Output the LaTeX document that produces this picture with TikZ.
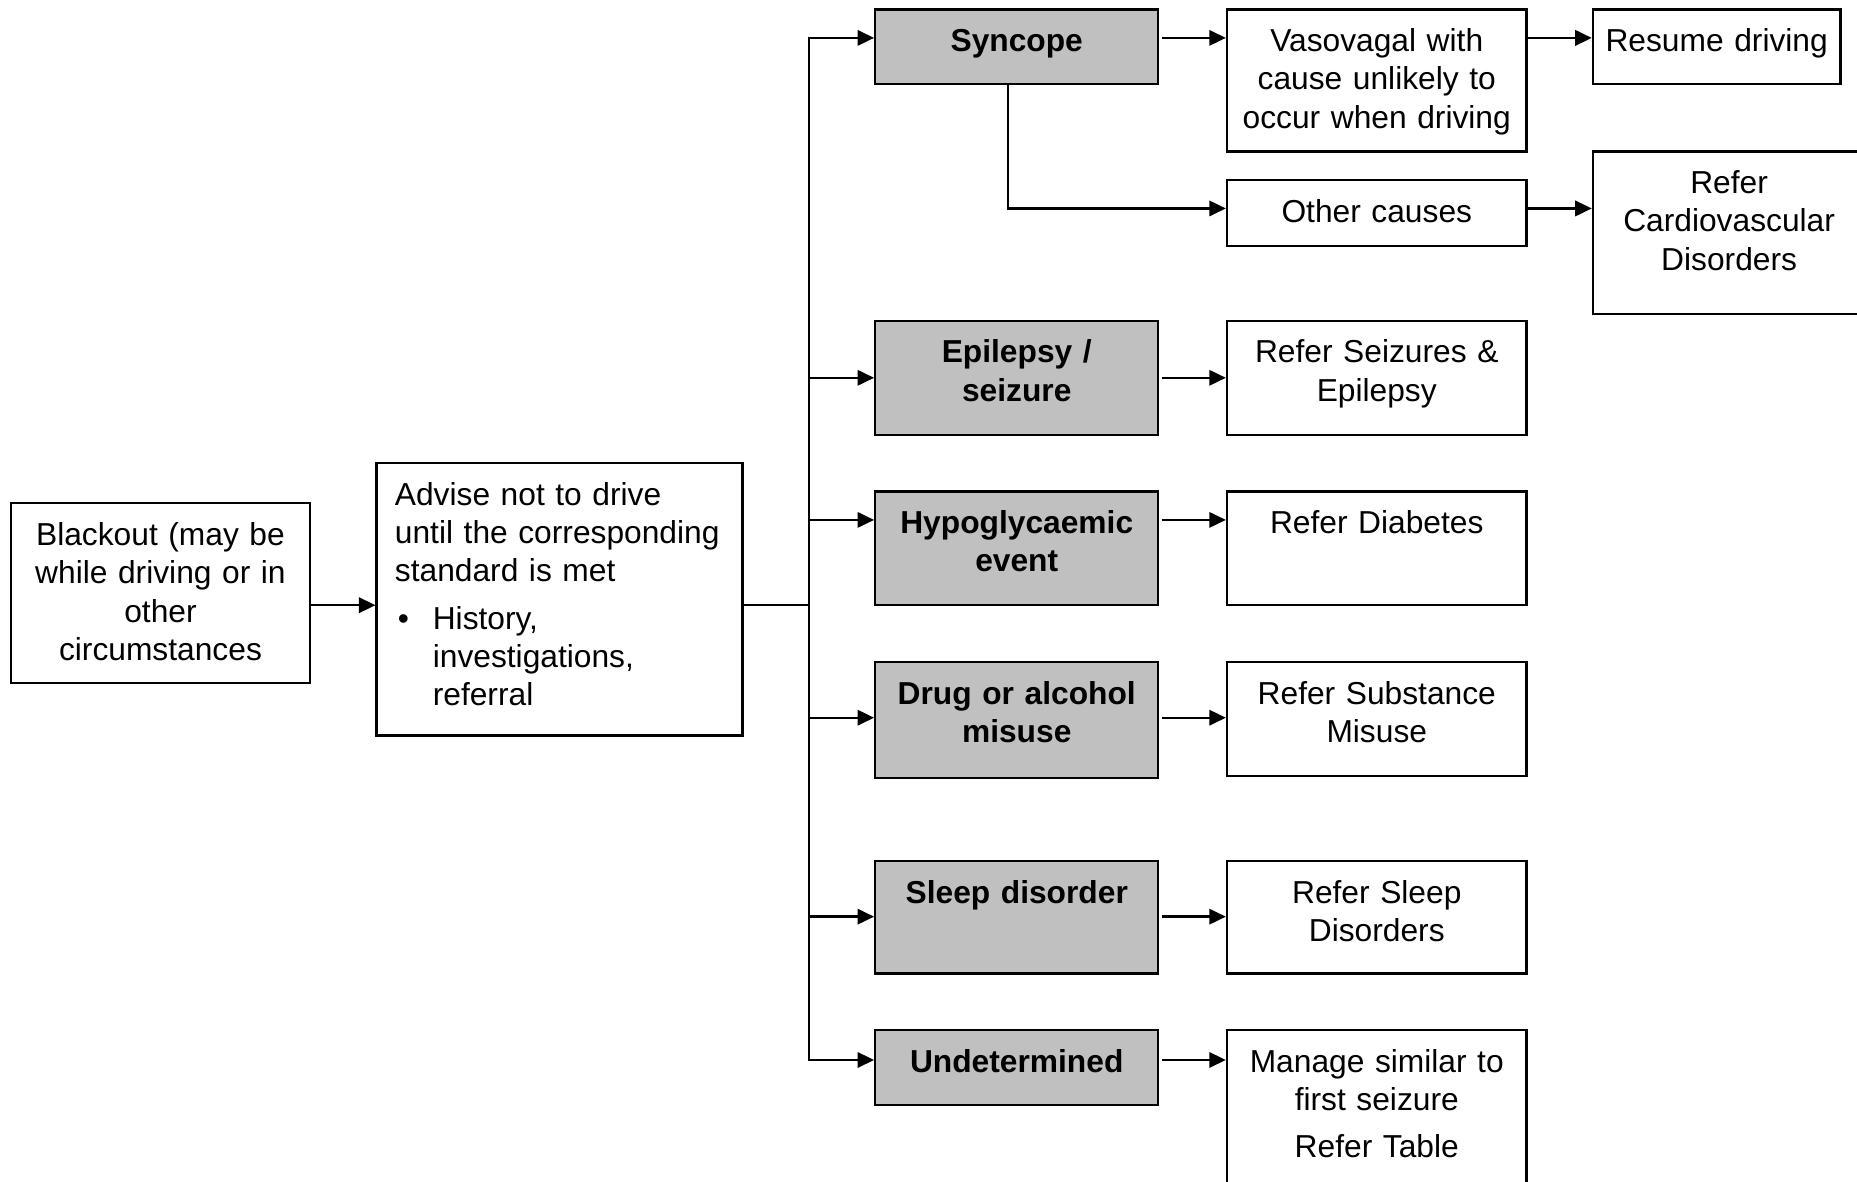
\documentclass[tikz,border=0pt]{standalone}
\usepackage{fontspec}
\setmainfont{Liberation Sans}
\usetikzlibrary{arrows.meta,fit}
\definecolor{boxgray}{RGB}{192,192,192}
\newcommand\mkbox[6]{%
  \path (#2,#3) coordinate (#1nw) (#4,#5) coordinate (#1se);
  \node[#6,fit=(#1nw)(#1se)] (#1) {};}
\begin{document}
\begin{tikzpicture}[x=0.5pt,y=-0.5pt,
  frame/.style={draw=black,line width=0.95pt,inner sep=0pt},
  wbox/.style={frame,fill=white},
  gbox/.style={frame,fill=boxgray},
  txt/.style={anchor=base,align=center,inner sep=0pt,text width=130pt,
    font=\fontsize{13.4pt}{16.2pt}\selectfont},
  btxt/.style={txt,font=\fontsize{13.4pt}{16.2pt}\selectfont\bfseries},
  conn/.style={line width=1pt},
  arr/.style={conn,-{Triangle[length=7pt,width=6.5pt]}},
  arrtwo/.style={conn,{Triangle[length=7pt,width=6.5pt]}-{Triangle[length=7pt,width=6.5pt]}}]
\useasboundingbox (0,0) rectangle (1568,998);

% boxes
\mkbox{blk}{9}{425}{262}{577}{wbox}
\mkbox{adv}{318}{391}{627}{621}{wbox}
\mkbox{syn}{739}{8}{978}{71}{gbox}
\mkbox{epi}{739}{271}{978}{367}{gbox}
\mkbox{hyp}{739}{415}{978}{511}{gbox}
\mkbox{drg}{739}{559}{978}{657}{gbox}
\mkbox{slp}{739}{727}{978}{822}{gbox}
\mkbox{und}{739}{870}{978}{933}{gbox}
\mkbox{vas}{1036}{8}{1289}{128}{wbox}
\mkbox{oth}{1036}{152}{1289}{208}{wbox}
\mkbox{rse}{1036}{271}{1289}{367}{wbox}
\mkbox{rdi}{1036}{415}{1289}{511}{wbox}
\mkbox{rsu}{1036}{559}{1289}{655}{wbox}
\mkbox{rsl}{1036}{727}{1289}{822}{wbox}
\mkbox{man}{1036}{870}{1289}{1012}{wbox}
\mkbox{res}{1345}{8}{1554}{71}{wbox}
\mkbox{car}{1345}{128}{1575}{265}{wbox}

% texts
\node[txt] (tblk) at ([yshift=-18.2pt]blk.north) {Blackout (may be\\while driving or in\\other\\circumstances};
\node[anchor=base west,align=left,inner sep=0pt,text width=150pt,
  font=\fontsize{13.4pt}{16.2pt}\selectfont] (tadv) at ([xshift=8pt,yshift=-18.2pt]adv.north west)
  {Advise not to drive\\until the corresponding\\standard is met\\[3.75pt]%
   \makebox[16pt][l]{\hspace{1.2pt}\textbullet}History,\\\hspace*{16pt}investigations,\\\hspace*{16pt}referral};
\node[btxt] (tsyn) at ([yshift=-18.2pt]syn.north) {Syncope};
\node[btxt] (tepi) at ([yshift=-18.2pt]epi.north) {Epilepsy /\\seizure};
\node[btxt] (thyp) at ([yshift=-18.2pt]hyp.north) {Hypoglycaemic\\event};
\node[btxt] (tdrg) at ([yshift=-18.2pt]drg.north) {Drug or alcohol\\misuse};
\node[btxt] (tslp) at ([yshift=-18.2pt]slp.north) {Sleep disorder};
\node[btxt] (tund) at ([yshift=-18.2pt]und.north) {Undetermined};
\node[txt] (tvas) at ([yshift=-18.2pt]vas.north) {Vasovagal with\\cause unlikely to\\occur when driving};
\node[txt] (toth) at ([yshift=-18.2pt]oth.north) {Other causes};
\node[txt] (trse) at ([yshift=-18.2pt]rse.north) {Refer Seizures \&\\Epilepsy};
\node[txt] (trdi) at ([yshift=-18.2pt]rdi.north) {Refer Diabetes};
\node[txt] (trsu) at ([yshift=-18.2pt]rsu.north) {Refer Substance\\Misuse};
\node[txt] (trsl) at ([yshift=-18.2pt]rsl.north) {Refer Sleep\\Disorders};
\node[txt] (tman) at ([yshift=-18.2pt]man.north) {Manage similar to\\first seizure\\[3.75pt]Refer Table};
\node[txt] (tres) at ([yshift=-18.2pt]res.north) {Resume driving};
\node[txt] (tcar) at ([yshift=-18.2pt]car.north) {Refer\\Cardiovascular\\Disorders};

% connector points
\coordinate (j) at (683,511);
\coordinate (t1) at (683,32);
\coordinate (t2) at (683,319);
\coordinate (t3) at (683,439);
\coordinate (t4) at (683,606);
\coordinate (t5) at (683,774);
\coordinate (t6) at (683,895);
\coordinate (o) at (851,176);

% connectors
\draw[arr] (blk.east |- j) -- (adv.west |- j);
\draw[conn] (adv.east |- j) -- (j);
\draw[arrtwo] (syn.west |- t1) -- (t1) -- (t6) -- (und.west |- t6);
\draw[arr] (t2) -- (epi.west |- t2);
\draw[arr] (t3) -- (hyp.west |- t3);
\draw[arr] (t4) -- (drg.west |- t4);
\draw[arr] (t5) -- (slp.west |- t5);

\draw[arr] ([xshift=1pt]syn.east |- t1) -- (vas.west |- t1);
\draw[arr] ([xshift=1pt]epi.east |- t2) -- (rse.west |- t2);
\draw[arr] ([xshift=1pt]hyp.east |- t3) -- (rdi.west |- t3);
\draw[arr] ([xshift=1pt]drg.east |- t4) -- (rsu.west |- t4);
\draw[arr] ([xshift=1pt]slp.east |- t5) -- (rsl.west |- t5);
\draw[arr] ([xshift=1pt]und.east |- t6) -- (man.west |- t6);

\draw[arr] (syn.south -| o) -- (o) -- (oth.west |- o);
\draw[arr] (vas.east |- t1) -- (res.west |- t1);
\draw[arr] (oth.east |- o) -- (car.west |- o);
\end{tikzpicture}
\end{document}
